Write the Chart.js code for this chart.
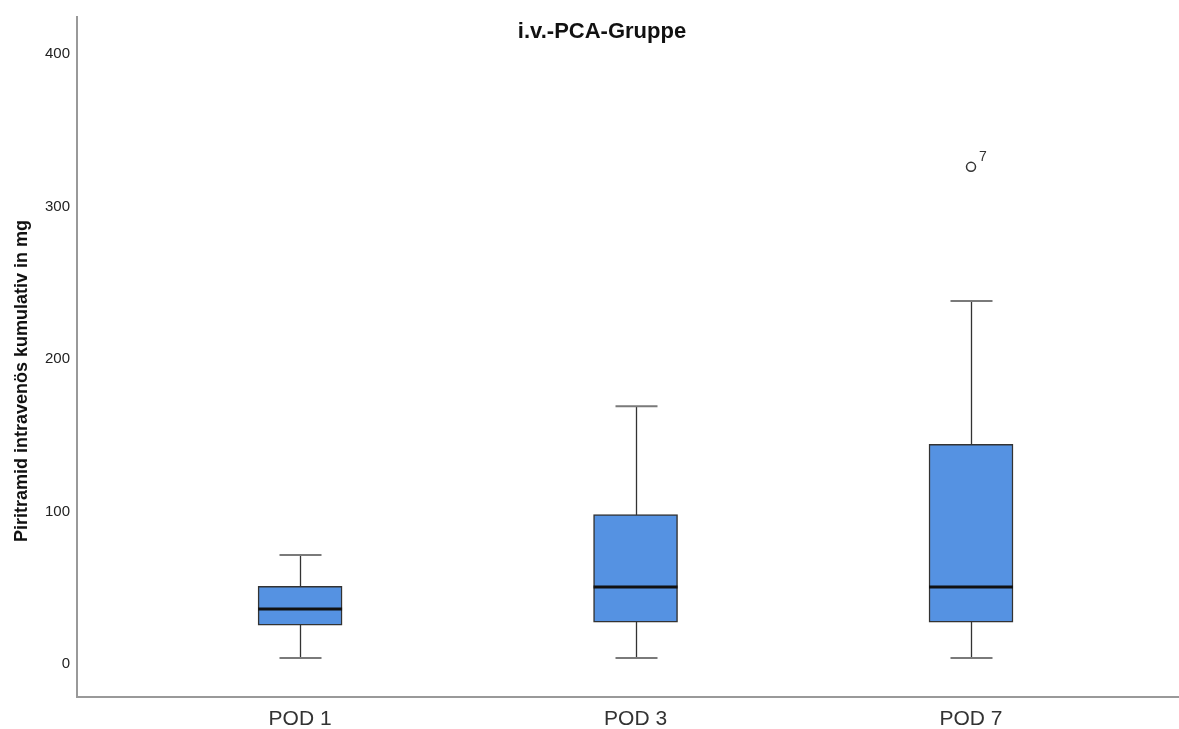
<!DOCTYPE html>
<html>
<head>
<meta charset="utf-8">
<script src="https://cdn.jsdelivr.net/npm/chart.js@4/dist/chart.umd.min.js"></script>
<style>
  body { margin: 0; background: #fff; }
</style>
</head>
<body>
<canvas id="box-chart" width="1179" height="729"></canvas>
<script>
// Boxplot data (mg)
const categories = ["POD 1", "POD 3", "POD 7"];
const xPos = [1, 2, 3];
const whiskerLow = [4, 4, 4];
const q1 = [25.5, 27.5, 27.5];
const median = [36, 50.5, 50.5];
const q3 = [51, 98, 144];
const whiskerHigh = [71.5, 169, 238];
const outliers = [{ x: 3, y: 326, label: "7" }];
const yTicks = [0, 100, 200, 300, 400];

const boxData = xPos.map((x, i) => ({ x: x, y: [q1[i], q3[i]] }));

// whiskers, caps, medians and outlier labels
const boxExtras = {
  id: "boxExtras",
  beforeDatasetsDraw(chart) {
    const { ctx, scales: { x, y } } = chart;
    ctx.save();
    xPos.forEach((v, i) => {
      const cx = Math.round(x.getPixelForValue(v)) + 0.5;
      const lo = y.getPixelForValue(whiskerLow[i]);
      const hi = y.getPixelForValue(whiskerHigh[i]);
      ctx.strokeStyle = "#333";
      ctx.lineWidth = 1.3;
      ctx.beginPath();
      ctx.moveTo(cx, lo);
      ctx.lineTo(cx, hi);
      ctx.stroke();
      ctx.strokeStyle = "#7a7a7a";
      ctx.lineWidth = 2;
      ctx.beginPath();
      ctx.moveTo(cx - 21, lo);
      ctx.lineTo(cx + 21, lo);
      ctx.moveTo(cx - 21, hi);
      ctx.lineTo(cx + 21, hi);
      ctx.stroke();
    });
    ctx.restore();
  },
  afterDatasetsDraw(chart) {
    const { ctx, scales: { x, y } } = chart;
    ctx.save();
    xPos.forEach((v, i) => {
      const cx = x.getPixelForValue(v);
      const my = y.getPixelForValue(median[i]);
      ctx.strokeStyle = "#111";
      ctx.lineWidth = 3;
      ctx.beginPath();
      ctx.moveTo(cx - 42, my);
      ctx.lineTo(cx + 42, my);
      ctx.stroke();
    });
    ctx.fillStyle = "#333";
    ctx.font = "14px 'Liberation Sans', Arial, sans-serif";
    ctx.textAlign = "left";
    ctx.textBaseline = "middle";
    outliers.forEach((o) => {
      ctx.fillText(o.label, x.getPixelForValue(o.x) + 8, y.getPixelForValue(o.y) - 10);
    });
    ctx.restore();
  },
  afterDraw(chart) {
    const { ctx } = chart;
    ctx.save();
    ctx.fillStyle = "#111";
    ctx.textAlign = "center";
    ctx.textBaseline = "middle";
    ctx.font = "bold 22px 'Liberation Sans', Arial, sans-serif";
    ctx.fillText("i.v.-PCA-Gruppe", 602, 32);
    ctx.translate(22, 381);
    ctx.rotate(-Math.PI / 2);
    ctx.font = "bold 18px 'Liberation Sans Narrow', 'Liberation Sans', Arial, sans-serif";
    ctx.fillText("Piritramid intravenös kumulativ in mg", 0, 0);
    ctx.restore();
  },
};

const config = {
  type: "bar",
  data: {
    datasets: [
      {
        type: "bar",
        label: "Box",
        data: boxData,
        backgroundColor: "#5592e2",
        borderColor: "#333",
        borderWidth: 1.5,
        borderSkipped: false,
        barThickness: 84,
        grouped: false,
        order: 2,
      },
      {
        type: "line",
        label: "Ausreißer",
        data: outliers.map((o) => ({ x: o.x, y: o.y })),
        showLine: false,
        pointStyle: "circle",
        pointRadius: 4.5,
        pointBackgroundColor: "#fff",
        pointBorderColor: "#333",
        pointBorderWidth: 1.5,
        order: 1,
      },
    ],
  },
  options: {
    responsive: false,
    animation: false,
    layout: { autoPadding: false, padding: { top: 17, right: 0, left: 0, bottom: 0 } },
    plugins: {
      legend: { display: false },
      tooltip: { enabled: false },
      title: { display: false },
    },
    scales: {
      x: {
        type: "linear",
        offset: false,
        min: 0.335,
        max: 3.62,
        afterBuildTicks: (s) => { s.ticks = xPos.map((v) => ({ value: v })); },
        afterFit: (s) => { s.height = 32; },
        ticks: {
          callback: (v) => categories[xPos.indexOf(v)] || "",
          color: "#333",
          font: { family: "'Liberation Sans', Arial, sans-serif", size: 21 },
          padding: 10,
          maxRotation: 0,
          autoSkip: false,
        },
        grid: { display: false, drawTicks: false },
        border: { display: true, color: "#999", width: 2 },
      },
      y: {
        min: -21.64,
        max: 424.26,
        afterBuildTicks: (s) => { s.ticks = yTicks.map((v) => ({ value: v })); },
        afterFit: (s) => { s.width = 77; },
        ticks: {
          color: "#222",
          font: { family: "'Liberation Sans', Arial, sans-serif", size: 15 },
          padding: 7,
        },
        grid: { display: false, drawTicks: false },
        border: { display: true, color: "#999", width: 2 },
      },
    },
  },
  plugins: [boxExtras],
};

const boxChart = new Chart(document.getElementById("box-chart"), config);
</script>
</body>
</html>
